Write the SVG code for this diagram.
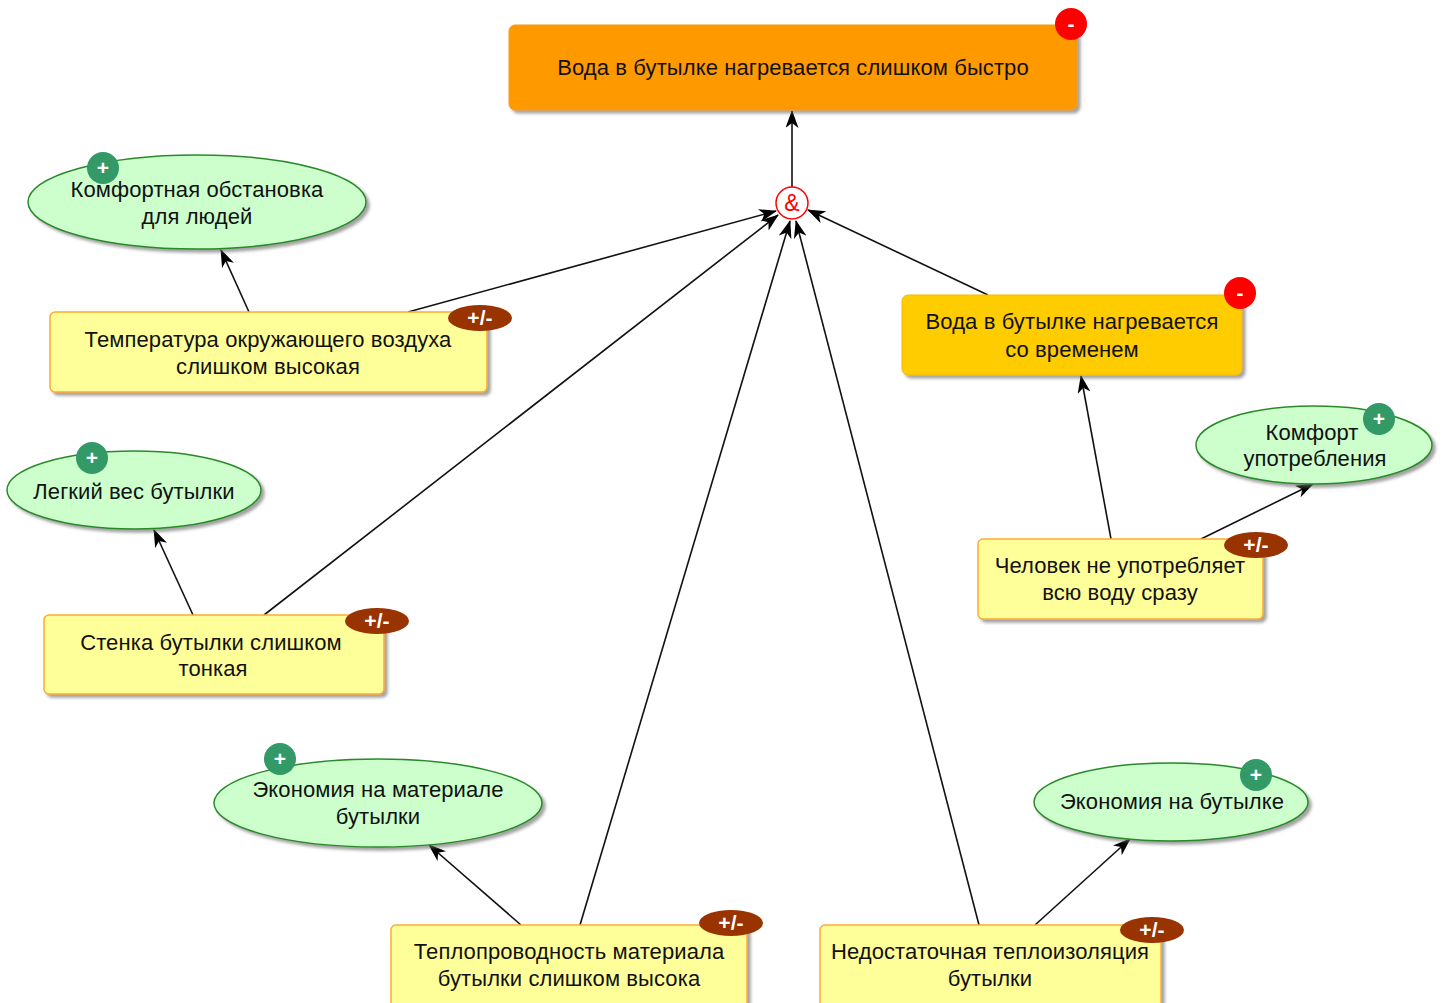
<svg xmlns="http://www.w3.org/2000/svg" width="1445" height="1003" viewBox="0 0 1445 1003">
<defs>
<filter id="sh" x="-10%" y="-10%" width="130%" height="140%">
<feDropShadow dx="3" dy="3" stdDeviation="1.5" flood-color="#666" flood-opacity="0.6"/>
</filter>
<marker id="arr" markerUnits="userSpaceOnUse" markerWidth="18" markerHeight="13" refX="17" refY="6.5" orient="auto">
<path d="M0,0 L18,6.5 L0,13 L5,6.5 z" fill="#000"/>
</marker>
</defs>
<style>
text{font-family:"Liberation Sans",Arial,sans-serif;font-size:22px;letter-spacing:0.1px;fill:#111;text-anchor:middle}
.conn line{stroke:#111;stroke-width:1.6;marker-end:url(#arr)}
.goal{fill:#ccffcc;stroke:#2a8a2a;stroke-width:1.5;filter:url(#sh)}
.cause{fill:#ffff99;stroke:#ffaa33;stroke-width:1.5;filter:url(#sh)}
.bp{fill:#339966}
.bpm{fill:#993300}
.bneg{fill:#ff0000}
text.b{fill:#fff;font-size:21px;font-weight:bold}
</style>
<rect width="1445" height="1003" fill="#fff"/>
<g id="connectors" class="conn">
<line x1="792" y1="187" x2="792" y2="111"/>
<line x1="249" y1="312" x2="221" y2="250"/>
<line x1="408" y1="312" x2="776" y2="211"/>
<line x1="193" y1="615" x2="154" y2="530"/>
<line x1="264" y1="615" x2="778" y2="215"/>
<line x1="521" y1="925" x2="429" y2="845"/>
<line x1="580" y1="925" x2="790" y2="221"/>
<line x1="1035" y1="925" x2="1130" y2="839"/>
<line x1="979" y1="925" x2="796" y2="221"/>
<line x1="988" y1="295" x2="808" y2="210"/>
<line x1="1111" y1="539" x2="1081" y2="376"/>
<line x1="1201" y1="539" x2="1313" y2="484"/>
</g>
<g id="and">
<circle cx="792" cy="203" r="16" fill="#fff" stroke="#ff0000" stroke-width="1.5"/>
<text x="792" y="211" style="fill:#ff0000;font-size:23px">&amp;</text>
</g>
<g id="top">
<rect x="509" y="25" width="568" height="85" rx="6" fill="#ff9900" stroke="#f59a10" filter="url(#sh)"/>
<text x="793" y="75">Вода в бутылке нагревается слишком быстро</text>
<circle class="bneg" cx="1071" cy="24" r="16"/>
<text class="b" x="1071" y="31">-</text>
</g>
<g id="n_heat_time">
<rect x="902" y="295" width="340" height="80" rx="6" fill="#ffcc00" stroke="#f5b800" filter="url(#sh)"/>
<text x="1072" y="329">Вода в бутылке нагревается</text>
<text x="1072" y="357">со временем</text>
<circle class="bneg" cx="1240" cy="293" r="16"/>
<text class="b" x="1240" y="300">-</text>
</g>
<g id="g_comfort_env">
<ellipse class="goal" cx="197" cy="202" rx="169" ry="47"/>
<text x="197" y="197">Комфортная обстановка</text>
<text x="197" y="224">для людей</text>
<circle class="bp" cx="103" cy="168" r="16"/>
<text class="b" x="103" y="175">+</text>
</g>
<g id="n_temp">
<rect class="cause" x="50" y="312" width="437" height="80" rx="5"/>
<text x="268" y="347">Температура окружающего воздуха</text>
<text x="268" y="374">слишком высокая</text>
<ellipse class="bpm" cx="480" cy="318" rx="32" ry="13"/>
<text class="b" x="480" y="325">+/-</text>
</g>
<g id="g_light">
<ellipse class="goal" cx="134" cy="490" rx="127" ry="39"/>
<text x="134" y="499">Легкий вес бутылки</text>
<circle class="bp" cx="92" cy="458" r="16"/>
<text class="b" x="92" y="465">+</text>
</g>
<g id="n_wall">
<rect class="cause" x="44" y="615" width="340" height="79" rx="5"/>
<text x="211" y="650">Стенка бутылки слишком</text>
<text x="213" y="676">тонкая</text>
<ellipse class="bpm" cx="377" cy="621" rx="32" ry="13"/>
<text class="b" x="377" y="628">+/-</text>
</g>
<g id="g_material">
<ellipse class="goal" cx="378" cy="803" rx="164" ry="44"/>
<text x="378" y="797">Экономия на материале</text>
<text x="378" y="824">бутылки</text>
<circle class="bp" cx="280" cy="759" r="16"/>
<text class="b" x="280" y="766">+</text>
</g>
<g id="n_conduct">
<rect class="cause" x="391" y="925" width="356" height="85" rx="5"/>
<text x="569" y="959">Теплопроводность материала</text>
<text x="569" y="986">бутылки слишком высока</text>
<ellipse class="bpm" cx="731" cy="923" rx="32" ry="13"/>
<text class="b" x="731" y="930">+/-</text>
</g>
<g id="g_bottle">
<ellipse class="goal" cx="1171" cy="802" rx="137" ry="39"/>
<text x="1172" y="809">Экономия на бутылке</text>
<circle class="bp" cx="1256" cy="775" r="16"/>
<text class="b" x="1256" y="782">+</text>
</g>
<g id="n_insul">
<rect class="cause" x="820" y="925" width="341" height="85" rx="5"/>
<text x="990" y="959">Недостаточная теплоизоляция</text>
<text x="990" y="986">бутылки</text>
<ellipse class="bpm" cx="1152" cy="930" rx="32" ry="13"/>
<text class="b" x="1152" y="937">+/-</text>
</g>
<g id="g_comfort_use">
<ellipse class="goal" cx="1314" cy="445" rx="118" ry="39"/>
<text x="1312" y="440">Комфорт</text>
<text x="1315" y="466">употребления</text>
<circle class="bp" cx="1379" cy="419" r="16"/>
<text class="b" x="1379" y="426">+</text>
</g>
<g id="n_person">
<rect class="cause" x="978" y="539" width="285" height="80" rx="5"/>
<text x="1120" y="573">Человек не употребляет</text>
<text x="1120" y="600">всю воду сразу</text>
<ellipse class="bpm" cx="1256" cy="545" rx="32" ry="13"/>
<text class="b" x="1256" y="552">+/-</text>
</g>
</svg>
